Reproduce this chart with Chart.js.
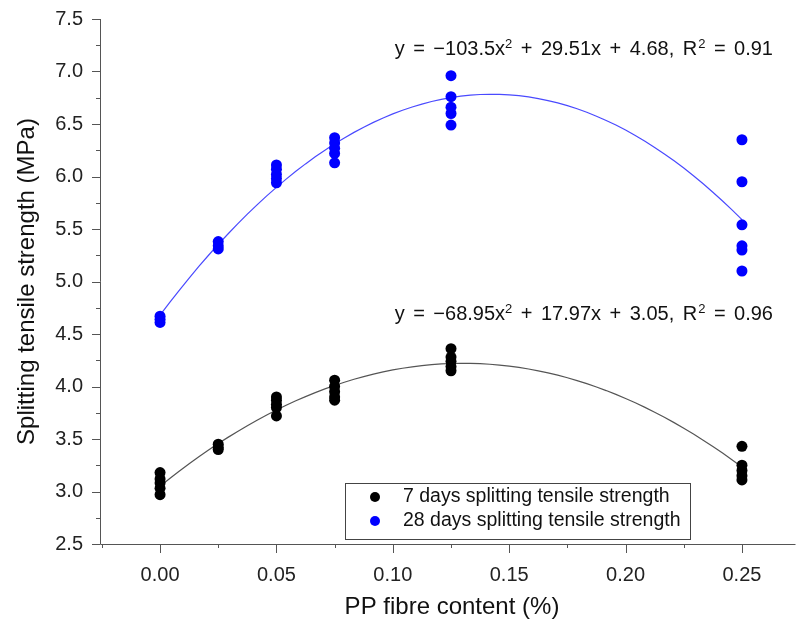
<!DOCTYPE html>
<html><head><meta charset="utf-8">
<script src="https://cdn.jsdelivr.net/npm/chart.js@4/dist/chart.umd.min.js"></script>
<style>html,body{margin:0;padding:0;background:#fff}#wrap{width:801px;height:630px}</style>
</head><body><div id="wrap"><canvas id="c" width="801" height="630"></canvas></div>
<script>
// ---- data ----
const fibreContent = [0, 0.025, 0.05, 0.075, 0.125, 0.25];
const strength7 = [
  [3.18, 3.12, 3.08, 3.03, 2.97],
  [3.45, 3.42, 3.40],
  [3.90, 3.87, 3.83, 3.80, 3.72],
  [4.06, 4.00, 3.95, 3.90, 3.87],
  [4.36, 4.28, 4.24, 4.19, 4.15],
  [3.43, 3.25, 3.20, 3.15, 3.11]
];
const strength28 = [
  [4.67, 4.64, 4.61],
  [5.38, 5.34, 5.31],
  [6.11, 6.07, 6.02, 5.98, 5.94],
  [6.37, 6.32, 6.27, 6.22, 6.13],
  [6.96, 6.76, 6.66, 6.60, 6.49],
  [6.35, 5.95, 5.54, 5.34, 5.30, 5.10]
];
const fit7 = [-68.95, 17.97, 3.05];
const fit28 = [-103.5, 29.51, 4.68];
const r2Values = [0.96, 0.91];
const seriesLabels = ['7 days splitting tensile strength', '28 days splitting tensile strength'];
const xTickValues = [0, 0.05, 0.10, 0.15, 0.20, 0.25];
const yTickValues = [2.5, 3.0, 3.5, 4.0, 4.5, 5.0, 5.5, 6.0, 6.5, 7.0, 7.5];
const xTitle = 'PP fibre content (%)';
const yTitle = 'Splitting tensile strength (MPa)';

const FONT = '"Liberation Sans", Arial, sans-serif';

function toPoints(groups) {
  const out = [];
  groups.forEach((vals, i) => vals.forEach(v => out.push({x: fibreContent[i], y: v})));
  return out;
}
function fitCurve(c) {
  const out = [];
  const x0 = fibreContent[0], x1 = fibreContent[fibreContent.length - 1];
  const n = 60;
  for (let i = 0; i <= n; i++) {
    const x = x0 + (x1 - x0) * i / n;
    out.push({x: x, y: c[0] * x * x + c[1] * x + c[2]});
  }
  return out;
}
function fmtCoef(v) { return String(Math.abs(v)); }

const decor = {
  id: 'decor',
  afterDraw(chart) {
    const ctx = chart.ctx;
    const xs = chart.scales.x, ys = chart.scales.y;
    const ca = chart.chartArea;
    ctx.save();
    // axes lines
    ctx.strokeStyle = '#555';
    ctx.lineWidth = 1;
    ctx.beginPath();
    ctx.moveTo(ca.left + 0.5, ca.top);
    ctx.lineTo(ca.left + 0.5, ca.bottom + 0.5);
    ctx.lineTo(ca.right, ca.bottom + 0.5);
    ctx.stroke();
    // y ticks (major + minor)
    ctx.beginPath();
    for (let i = 0; i < yTickValues.length; i++) {
      const py = Math.round(ys.getPixelForValue(yTickValues[i])) + 0.5;
      ctx.moveTo(ca.left - 8, py); ctx.lineTo(ca.left, py);
      if (i < yTickValues.length - 1) {
        const pm = Math.round(ys.getPixelForValue((yTickValues[i] + yTickValues[i + 1]) / 2)) + 0.5;
        ctx.moveTo(ca.left - 4, pm); ctx.lineTo(ca.left, pm);
      }
    }
    // x ticks
    for (let i = 0; i < xTickValues.length; i++) {
      const px = Math.round(xs.getPixelForValue(xTickValues[i])) + 0.5;
      ctx.moveTo(px, ca.bottom); ctx.lineTo(px, ca.bottom + 9);
      const pm = Math.round(xs.getPixelForValue(xTickValues[i] + 0.025)) + 0.5;
      if (pm < ca.right) { ctx.moveTo(pm, ca.bottom); ctx.lineTo(pm, ca.bottom + 4); }
    }
    const pm0 = Math.round(xs.getPixelForValue(xTickValues[0] - 0.025)) + 0.5;
    if (pm0 > ca.left) { ctx.moveTo(pm0, ca.bottom); ctx.lineTo(pm0, ca.bottom + 4); }
    ctx.stroke();

    // axis titles
    ctx.fillStyle = '#111';
    ctx.font = '24px ' + FONT;
    ctx.textAlign = 'center';
    ctx.textBaseline = 'middle';
    ctx.fillText(xTitle, 452, 607);
    ctx.save();
    ctx.translate(27, (ca.top + ca.bottom) / 2);
    ctx.rotate(-Math.PI / 2);
    ctx.fillText(yTitle, 0, 0);
    ctx.restore();

    // equations
    function drawEq(c, r2, px, py) {
      const gap = 8.5;
      const parts = [
        ['y', 0, gap], ['=', 0, gap], ['\u2212' + fmtCoef(c[0]) + 'x', 0, 0], ['2', 1, gap],
        ['+', 0, gap], [fmtCoef(c[1]) + 'x', 0, gap], ['+', 0, gap], [fmtCoef(c[2]) + ',', 0, gap],
        ['R', 0, 1], ['2', 1, gap], ['=', 0, gap], [r2.toFixed(2), 0, 0]
      ];
      ctx.textAlign = 'left';
      ctx.textBaseline = 'alphabetic';
      ctx.fillStyle = '#111';
      let x = px;
      for (const [t, sup, g] of parts) {
        ctx.font = (sup ? '13px ' : '20px ') + FONT;
        ctx.fillText(t, x, sup ? py - 7 : py);
        x += ctx.measureText(t).width + g;
      }
    }
    drawEq(fit28, r2Values[1], xs.getPixelForValue(0.1008), ys.getPixelForValue(7.157));
    drawEq(fit7, r2Values[0], xs.getPixelForValue(0.1008), ys.getPixelForValue(4.633));

    // legend
    const lx = 345, ly = 483, lw = 345, lh = 56;
    ctx.fillStyle = '#fff';
    ctx.fillRect(lx, ly, lw, lh);
    ctx.strokeStyle = '#444';
    ctx.strokeRect(lx + 0.5, ly + 0.5, lw, lh);
    const sets = chart.data.datasets.filter(d => d.type === 'scatter');
    sets.forEach((d, i) => {
      const yy = ly + 14 + i * 24;
      ctx.fillStyle = d.backgroundColor;
      ctx.beginPath();
      ctx.arc(lx + 30, yy, 5, 0, Math.PI * 2);
      ctx.fill();
      ctx.fillStyle = '#111';
      ctx.font = '19.5px ' + FONT;
      ctx.textAlign = 'left';
      ctx.textBaseline = 'middle';
      ctx.fillText(d.label, lx + 58, yy);
    });
    ctx.restore();
  }
};

new Chart(document.getElementById('c'), {
  data: {
    datasets: [
      {type: 'line', label: 'fit7', data: fitCurve(fit7), borderColor: '#555', borderWidth: 1.2, pointRadius: 0, fill: false, order: 3, tension: 0},
      {type: 'line', label: 'fit28', data: fitCurve(fit28), borderColor: '#4a4aff', borderWidth: 1.2, pointRadius: 0, fill: false, order: 3, tension: 0},
      {type: 'scatter', label: seriesLabels[0], data: toPoints(strength7), backgroundColor: '#000000', borderColor: '#000000', pointRadius: 5.5, borderWidth: 0, order: 1},
      {type: 'scatter', label: seriesLabels[1], data: toPoints(strength28), backgroundColor: '#0000ff', borderColor: '#0000ff', pointRadius: 5.5, borderWidth: 0, order: 1}
    ]
  },
  options: {
    responsive: false,
    devicePixelRatio: 1,
    animation: false,
    layout: {padding: {top: 19, right: 0, left: 0, bottom: 0}},
    plugins: {legend: {display: false}, tooltip: {enabled: false}},
    scales: {
      x: {
        type: 'linear', min: -0.0258, max: 0.273,
        grid: {display: false, drawTicks: false}, border: {display: false},
        afterBuildTicks: a => { a.ticks = xTickValues.map(v => ({value: v})); },
        afterFit: a => { a.height = 86; a.paddingLeft = 0; a.paddingRight = 0; },
        ticks: {padding: 19, color: '#222', font: {family: FONT, size: 20}, maxRotation: 0, autoSkip: false,
          callback: v => Number(v).toFixed(2)}
      },
      y: {
        type: 'linear', min: 2.5, max: 7.5,
        grid: {display: false, drawTicks: false}, border: {display: false},
        afterBuildTicks: a => { a.ticks = yTickValues.map(v => ({value: v})); },
        afterFit: a => { a.width = 100; a.paddingTop = 0; a.paddingBottom = 0; },
        ticks: {padding: 17, color: '#222', font: {family: FONT, size: 20}, autoSkip: false,
          callback: v => Number(v).toFixed(1)}
      }
    }
  },
  plugins: [decor]
});
</script>
</body></html>
